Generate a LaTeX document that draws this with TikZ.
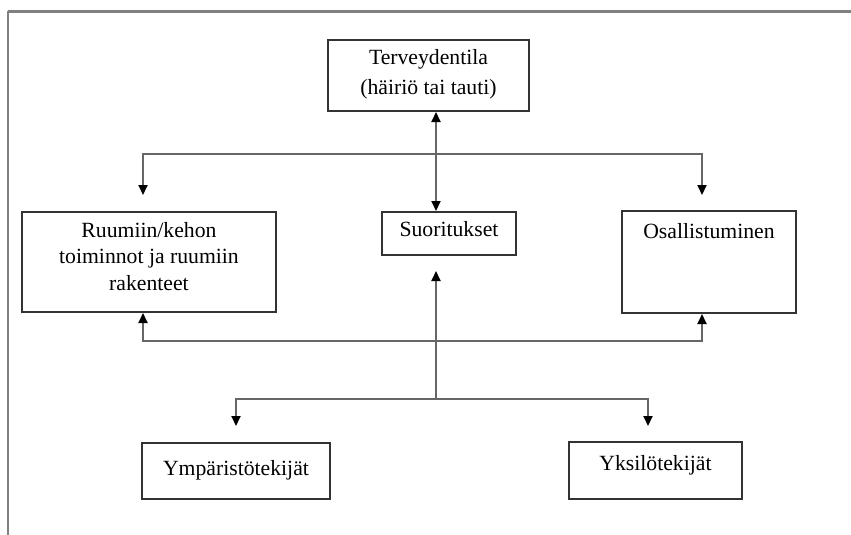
\documentclass[tikz,border=0pt]{standalone}
\usepackage{fontspec}
\setmainfont{Liberation Serif}
\usetikzlibrary{arrows.meta}
\begin{document}
\begin{tikzpicture}[x=1pt,y=-1pt,
  box/.style={draw=black!80, line width=2pt, inner sep=0pt, align=center,
    font=\fontsize{21.7}{26.5}\selectfont},
  conn/.style={draw=black!60, line width=2pt},
  tip/.tip={Triangle[width=9pt,length=10pt,black]},
  arr/.style={conn, -tip},
  frame/.style={draw=black!50, line width=2.4pt}
]
\useasboundingbox (0,0) rectangle (851,535);
\fill[white] (0,0) rectangle (851,535);
% outer frame (partly cut off)
\draw[frame] (8,11.5) -- (870,11.5);
\draw[frame] (8,11.5) -- (8,560);

% boxes
\node[box, minimum width=201pt, text height=54pt, text depth=17pt] (T) at (428.5,75.5)
  {Terveydentila\\[2.5pt](häiriö tai tauti)};
\node[box, minimum width=254pt, text height=78pt, text depth=22pt] (R) at (149,262)
  {Ruumiin/kehon\\toiminnot ja ruumiin\\rakenteet};
\node[box, minimum width=134pt, text height=24.7pt, text depth=18.3pt] (S) at (449,233.5)
  {Suoritukset};
\node[box, minimum width=174pt, text height=27pt, text depth=75pt] (O) at (709,262)
  {Osallistuminen};
\node[box, minimum width=188pt, text height=32pt, text depth=24pt] (Y) at (236,471)
  {Ympäristötekijät};
\node[box, minimum width=173pt, text height=28.7pt, text depth=28.3pt] (K) at (655.5,470.5)
  {Yksilötekijät};

% helper coordinates
\coordinate (sp) at (436,0);
\coordinate (htl) at (143,154);
\coordinate (htr) at (702,154);
\coordinate (hbl) at (143,341);
\coordinate (hbr) at (702,341);
\coordinate (sb) at (436,399);
\coordinate (bl) at (236,399);
\coordinate (br) at (648,399);

% Terveydentila <-> Suoritukset
\draw[conn, tip-tip] (T.south -| sp) -- (S.north -| sp);
% top distribution line
\draw[arr, shorten >=16pt] (sp |- htl) -- (htl) -- (htl |- R.north);
\draw[arr, shorten >=15pt] (sp |- htr) -- (htr) -- (htr |- O.north);
% bottom collecting line
\draw[arr] (sp |- hbl) -- (hbl) -- (hbl |- R.south);
\draw[arr] (sp |- hbr) -- (hbr) -- (hbr |- O.south);
% spine up to Suoritukset
\draw[arr, shorten >=15pt] (sb) -- (sb |- S.south);
% lower distribution
\draw[arr, shorten >=16pt] (sb) -- (bl) -- (bl |- Y.north);
\draw[arr, shorten >=15pt] (sb) -- (br) -- (br |- K.north);
\end{tikzpicture}
\end{document}
